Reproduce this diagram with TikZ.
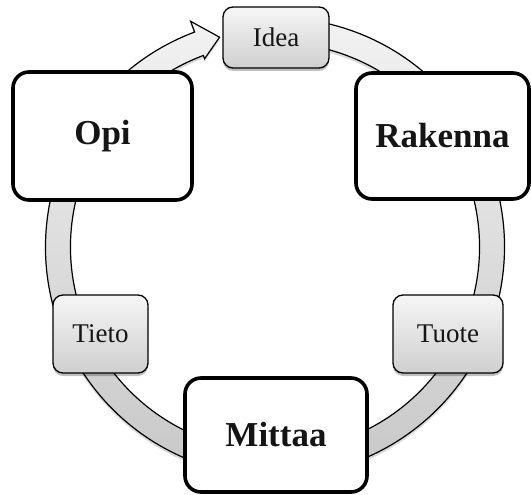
\documentclass[tikz,border=0pt]{standalone}
\usepackage{fontspec}
\setmainfont{Liberation Serif}
\usetikzlibrary{shadows}
\definecolor{txt}{HTML}{151515}
\definecolor{ringtop}{HTML}{F2F2F2}
\definecolor{ringbot}{HTML}{C6C6C6}
\definecolor{boxtop}{HTML}{F6F6F6}
\definecolor{boxbot}{HTML}{CFCFCF}
\begin{document}
\begin{tikzpicture}[x=1pt,y=1pt,
  bigbox/.style={draw=black, line width=3.6pt, fill=white, rounded corners=16pt,
    inner sep=0pt, text=txt, font=\fontsize{35}{40}\selectfont\bfseries},
  smallbox/.style={draw=black, line width=1.3pt, rounded corners=10pt,
    top color=boxtop, bottom color=boxbot, inner sep=0pt, text=txt,
    font=\fontsize{27}{32}\selectfont,
    drop shadow={shadow xshift=0pt, shadow yshift=-3pt, opacity=0.25, fill=black}},
  ringband/.style={draw=black, line width=1.2pt, top color=ringtop, bottom color=ringbot,
    line join=miter,
    drop shadow={shadow xshift=0pt, shadow yshift=-3pt, opacity=0.15, fill=black}}]
\useasboundingbox (0,0) rectangle (531,-495);
\coordinate (c) at (275,-247);
% circular arrow ring
\path[ringband] ([shift={(80:229.5)}]c)
  arc[start angle=80, end angle=-249.5, radius=229.5]
  -- ([shift={(110.5:241)}]c)
  -- ([shift={(104.8:217)}]c)
  -- ([shift={(110.5:201)}]c)
  -- ([shift={(110.5:204.5)}]c)
  arc[start angle=-249.5, end angle=80, radius=204.5]
  -- cycle;
% nodes
\node[smallbox, minimum width=106pt, minimum height=61pt] (idea) at (276,-37.5) {Idea};
\node[bigbox, minimum width=179pt, minimum height=128pt] (opi) at (102.5,-136) {Opi};
\node[bigbox, minimum width=173pt, minimum height=126pt] (rakenna) at (442.5,-136) {Rakenna};
\node[smallbox, minimum width=95pt, minimum height=78pt] (tieto) at (100.5,-334) {Tieto};
\node[smallbox, minimum width=110pt, minimum height=78pt] (tuote) at (448,-334) {Tuote};
\node[bigbox, minimum width=182pt, minimum height=114pt] (mittaa) at (276,-435) {Mittaa};
\end{tikzpicture}
\end{document}
